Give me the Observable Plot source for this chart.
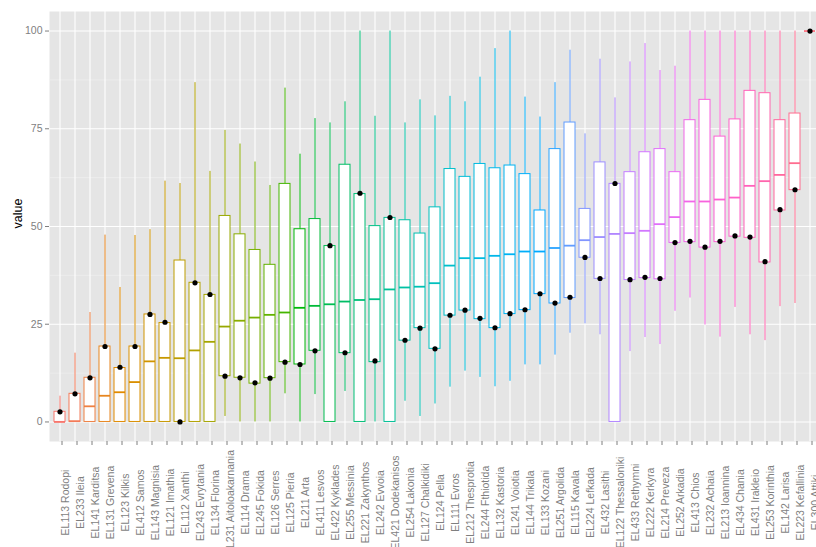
<!DOCTYPE html>
<html>
<head>
<meta charset="utf-8">
<script src="https://cdn.jsdelivr.net/npm/d3@7"></script>
<script src="https://cdn.jsdelivr.net/npm/@observablehq/plot@0.6"></script>
<style>
  html, body { margin: 0; padding: 0; background: #fff; overflow: hidden; }
  #chart { width: 830px; }
</style>
</head>
<body>
<div id="chart"></div>
<script>
const categories = [
  "EL113 Rodopi","EL233 Ileia","EL141 Karditsa","EL131 Grevena","EL123 Kilkis",
  "EL412 Samos","EL143 Magnisia","EL121 Imathia","EL112 Xanthi","EL243 Evrytania",
  "EL134 Florina","EL231 Aitoloakarnania","EL114 Drama","EL245 Fokida","EL126 Serres",
  "EL125 Pieria","EL211 Arta","EL411 Lesvos","EL422 Kyklades","EL255 Messinia",
  "EL221 Zakynthos","EL242 Evvoia","EL421 Dodekanisos","EL254 Lakonia","EL127 Chalkidiki",
  "EL124 Pella","EL111 Evros","EL212 Thesprotia","EL244 Fthiotida","EL132 Kastoria",
  "EL241 Voiotia","EL144 Trikala","EL133 Kozani","EL251 Argolida","EL115 Kavala",
  "EL224 Lefkada","EL432 Lasithi","EL122 Thessaloniki","EL433 Rethymni","EL222 Kerkyra",
  "EL214 Preveza","EL252 Arkadia","EL413 Chios","EL232 Achaia","EL213 Ioannina",
  "EL434 Chania","EL431 Irakleio","EL253 Korinthia","EL142 Larisa","EL223 Kefallinia",
  "EL300 Attiki"
];
const whiskerLow = [
  0,0,0,0,0, 0,0,0,0,0, 0,1.4,0,0,0, 7.2,0,7.0,0,7.8, 0,0,0,5.3,1.4,
  4.6,8.9,13.0,11.4,9.0, 10.4,14.6,14.6,17.1,22.7, 25.1,22.3,0,18.0,21.6,
  19.8,28.3,31.7,24.8,21.7, 29.3,22.3,20.8,29.5,30.3, 100
];
const q1 = [
  0,0,0,0,0, 0,0,0,0,0, 0,11.7,11.3,9.8,11.2, 15.3,14.7,18.2,0,17.6, 0,15.3,0,20.8,24.0,
  18.7,27.2,28.5,26.3,24.0, 27.6,28.6,32.7,30.3,31.7, 42.0,36.6,0,36.3,36.8,
  36.5,45.8,46.0,44.6,46.0, 47.4,47.1,40.8,54.1,59.3, 100
];
const median = [
  0,0.2,4.0,6.7,7.6, 10.2,15.5,16.4,16.3,18.3, 20.5,24.4,25.9,26.7,27.4, 28.0,29.2,29.7,30.1,30.8,
  31.2,31.4,33.9,34.4,34.6, 35.5,40.0,41.9,41.9,42.5, 42.9,43.6,43.6,44.5,45.1,
  46.5,47.3,48.1,48.3,48.9, 50.6,52.4,56.4,56.4,56.9, 57.4,60.4,61.6,63.2,66.2, 100
];
const q3 = [
  2.6,7.2,11.3,19.3,13.8, 19.3,27.5,25.3,41.3,35.6, 32.5,52.7,48.0,44.0,40.2, 60.9,49.3,51.9,45.0,65.8,
  58.3,50.1,52.2,51.6,48.2, 54.9,64.7,62.7,66.0,64.9, 65.6,63.4,54.1,69.8,76.6,
  54.5,66.4,60.9,63.9,69.0, 69.8,63.9,77.2,82.4,73.0, 77.4,84.7,84.1,77.2,78.9, 100
];
const whiskerHigh = [
  6.6,17.6,28.0,47.8,34.4, 47.7,49.2,61.6,61.0,86.8, 64.1,74.6,71.1,66.5,60.5, 85.4,68.5,77.6,76.5,81.9,
  100,78.2,100,76.5,82.4, 78.3,83.3,81.9,88.2,95.5, 100,83.1,78.0,86.8,95.1,
  73.7,92.8,82.9,92.1,96.8, 89.9,91.0,100,100,100, 100,100,100,100,100, 100
];
const pointValue = [
  2.6,7.2,11.3,19.3,14.0, 19.3,27.5,25.5,0,35.6, 32.6,11.7,11.3,10.0,11.2, 15.3,14.7,18.2,45.1,17.7,
  58.5,15.6,52.3,20.9,24.0, 18.7,27.3,28.6,26.5,24.1, 27.7,28.7,32.8,30.4,31.9,
  42.1,36.7,61.0,36.4,37.0, 36.7,45.9,46.2,44.7,46.2, 47.6,47.3,41.0,54.3,59.4, 100
];
const yTicks = [0, 25, 50, 75, 100];
const yMinor = [12.5, 37.5, 62.5, 87.5];

// ggplot2-style hue palette (polar CIE-LUV, c = 100, l = 65)
function hueColor(h, c = 100, l = 65) {
  const hr = h * Math.PI / 180;
  const U = c * Math.cos(hr), V = c * Math.sin(hr);
  const Y = l > 8 ? Math.pow((l + 16) / 116, 3) : l / 903.2963;
  const un = 0.1978398, vn = 0.4683363;
  const u = U / (13 * l) + un, v = V / (13 * l) + vn;
  const X = 9 * Y * u / (4 * v);
  const Z = -X / 3 - 5 * Y + 3 * Y / v;
  const lin = [
    3.240479 * X - 1.537150 * Y - 0.498535 * Z,
    -0.969256 * X + 1.875992 * Y + 0.041556 * Z,
    0.055648 * X - 0.204043 * Y + 1.057311 * Z
  ];
  const g = lin.map(t => {
    const s = t <= 0.0031308 ? 12.92 * t : 1.055 * Math.pow(t, 1 / 2.4) - 0.055;
    return Math.round(Math.max(0, Math.min(1, s)) * 255);
  });
  return d3.rgb(g[0], g[1], g[2]).formatHex();
}
const n = categories.length;
const palette = categories.map((_, i) => hueColor(15 + i * 360 / n));

const data = categories.map((name, i) => ({
  name, lo: whiskerLow[i], q1: q1[i], med: median[i], q3: q3[i], hi: whiskerHigh[i], pt: pointValue[i]
}));

const W = 830, H = 575;
const chart = Plot.plot({
  width: W,
  height: H,
  marginLeft: 49,
  marginRight: 9,
  marginTop: 11,
  marginBottom: H - 441,
  style: { fontFamily: "'Liberation Sans', Arial, sans-serif", background: "#fff", overflow: "visible" },
  x: { type: "band", domain: categories, paddingInner: 0.25, paddingOuter: 0.225, label: null },
  y: { domain: [-5, 105], label: null },
  color: { type: "ordinal", domain: categories, range: palette },
  marks: [
    Plot.frame({ fill: "#E5E5E5", stroke: null }),
    Plot.gridY(yMinor, { stroke: "#F2F2F2", strokeOpacity: 1, strokeWidth: 0.6 }),
    Plot.gridY(yTicks, { stroke: "#FFFFFF", strokeOpacity: 1, strokeWidth: 1.1 }),
    Plot.gridX(categories, { stroke: "#FFFFFF", strokeOpacity: 1, strokeWidth: 1.1 }),
    Plot.ruleX(data, { x: "name", y1: "lo", y2: "hi", stroke: "name", strokeWidth: 1 }),
    Plot.barY(data, { x: "name", y1: "q1", y2: "q3", fill: "#FFFFFF", stroke: "name", strokeWidth: 1 }),
    Plot.tickY(data, { x: "name", y: "med", stroke: "name", strokeWidth: 1.8 }),
    Plot.dot(data, { x: "name", y: "pt", r: 2.6, fill: "#000000", stroke: null }),
    Plot.axisY({ ticks: yTicks, tickSize: 4, tickPadding: 3, fontSize: 10.5, color: "#7F7F7F", label: null }),
    Plot.axisX({ tickSize: 4, tickRotate: -90, textAnchor: "middle", lineAnchor: "top", tickPadding: 57, dx: 2,
                 fontSize: 10.5, color: "#7F7F7F", label: null }),
    Plot.text(["value"], { frameAnchor: "left", dx: -32, dy: 2, rotate: -90, text: d => d, fontSize: 12.5,
                           fontWeight: "normal", fill: "#000000", stroke: null })
  ]
});
document.getElementById("chart").appendChild(chart);
</script>
</body>
</html>
